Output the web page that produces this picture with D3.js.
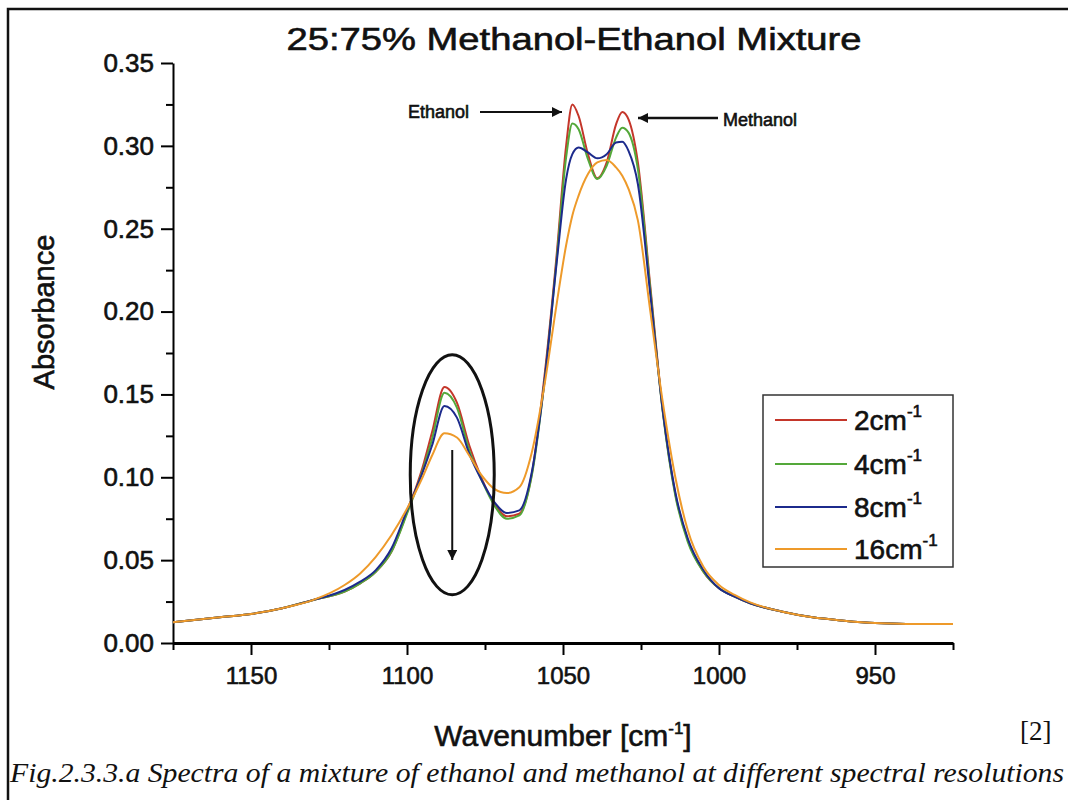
<!DOCTYPE html>
<html>
<head>
<meta charset="utf-8">
<script src="https://cdn.jsdelivr.net/npm/d3@7"></script>
<style>
  body { margin: 0; background: #fff; }
  svg text { font-family: "Liberation Sans", Arial, sans-serif; fill: #111; }
  svg text.heavy { stroke: #111; stroke-width: 0.6px; }
</style>
</head>
<body>
<div id="graph"></div>
<script>
// valeurs
var wavenumbers = [1175, 1160, 1150, 1140, 1130, 1120, 1115, 1110, 1105, 1100, 1095, 1092, 1088, 1084, 1080, 1076, 1072, 1068, 1064, 1060, 1056, 1052, 1049, 1047, 1045, 1042, 1039, 1036, 1033, 1031, 1029, 1026, 1022, 1018, 1014, 1010, 1005, 1000, 995, 990, 980, 970, 960, 950, 940, 925];

var abs2 = [0.0125, 0.0155, 0.0175, 0.021, 0.026, 0.031, 0.036, 0.043, 0.055, 0.079, 0.106, 0.127, 0.1545, 0.145, 0.119, 0.099, 0.084, 0.0765, 0.078, 0.102, 0.160, 0.235, 0.300, 0.325, 0.318, 0.295, 0.2805, 0.290, 0.313, 0.3205, 0.316, 0.290, 0.215, 0.140, 0.090, 0.062, 0.043, 0.033, 0.028, 0.024, 0.019, 0.0155, 0.0135, 0.012, 0.0115, 0.0115];
var abs4 = [0.0125, 0.0155, 0.0175, 0.021, 0.026, 0.031, 0.036, 0.043, 0.055, 0.078, 0.104, 0.123, 0.151, 0.142, 0.116, 0.098, 0.083, 0.075, 0.077, 0.101, 0.157, 0.232, 0.293, 0.3135, 0.310, 0.292, 0.280, 0.288, 0.305, 0.311, 0.308, 0.286, 0.213, 0.139, 0.089, 0.061, 0.043, 0.033, 0.028, 0.024, 0.019, 0.0155, 0.0135, 0.012, 0.0115, 0.0115];
var abs8 = [0.0125, 0.0155, 0.0175, 0.021, 0.026, 0.032, 0.037, 0.044, 0.057, 0.080, 0.103, 0.119, 0.143, 0.136, 0.114, 0.098, 0.085, 0.0785, 0.080, 0.103, 0.157, 0.230, 0.280, 0.295, 0.299, 0.296, 0.2925, 0.295, 0.302, 0.3025, 0.297, 0.277, 0.210, 0.140, 0.091, 0.063, 0.044, 0.033, 0.028, 0.024, 0.019, 0.0155, 0.0135, 0.012, 0.0115, 0.0115];
var abs16 = [0.0125, 0.0155, 0.0175, 0.021, 0.026, 0.035, 0.042, 0.052, 0.065, 0.081, 0.100, 0.113, 0.1265, 0.124, 0.113, 0.101, 0.093, 0.0905, 0.094, 0.115, 0.155, 0.205, 0.240, 0.258, 0.270, 0.283, 0.290, 0.2915, 0.287, 0.282, 0.274, 0.255, 0.200, 0.145, 0.100, 0.068, 0.046, 0.035, 0.029, 0.0245, 0.019, 0.0155, 0.0135, 0.012, 0.0115, 0.0115];

var seriesNames = ["2", "4", "8", "16"];
var seriesColors = ["#c4362a", "#54a83a", "#1c2a8c", "#ee9a2a"];
var seriesValues = [abs2, abs4, abs8, abs16];

var xMajorTicks = [1150, 1100, 1050, 1000, 950];
var xMinorTicks = [1175, 1125, 1075, 1025, 975, 925];
var yMajorTicks = [0, 0.05, 0.10, 0.15, 0.20, 0.25, 0.30, 0.35];
var yMinorTicks = [0.025, 0.075, 0.125, 0.175, 0.225, 0.275, 0.325];

var W = 1068, H = 800;
var svg = d3.select("#graph").append("svg")
  .attr("width", W).attr("height", H);

// cadre de la figure
svg.append("rect")
  .attr("x", 8).attr("y", 9).attr("width", W + 10).attr("height", H + 10)
  .attr("fill", "none").attr("stroke", "#111").attr("stroke-width", 2.5);

var x = d3.scaleLinear().domain([1175, 925]).range([173, 953]);
var y = d3.scaleLinear().domain([0, 0.35]).range([643, 63]);

// axe X
var gx = svg.append("g").attr("transform", "translate(0,643)");
gx.call(d3.axisBottom(x).tickValues(xMajorTicks).tickSize(12).tickSizeOuter(0).tickPadding(12).tickFormat(d3.format("d")));
gx.selectAll("text").attr("class", "heavy").style("font-size", "24px");
gx.select(".domain").attr("stroke-width", 3);
gx.selectAll(".tick line").attr("stroke-width", 2);
var gx2 = svg.append("g").attr("transform", "translate(0,643)");
gx2.call(d3.axisBottom(x).tickValues(xMinorTicks).tickSize(7).tickSizeOuter(0).tickFormat(""));
gx2.select(".domain").remove();
gx2.selectAll(".tick line").attr("stroke-width", 2);

// axe Y
var gy = svg.append("g").attr("transform", "translate(173,0)");
gy.call(d3.axisLeft(y).tickValues(yMajorTicks).tickSize(12).tickSizeOuter(0).tickPadding(7).tickFormat(d3.format(".2f")));
gy.selectAll("text").attr("class", "heavy").style("font-size", "26px");
gy.select(".domain").attr("stroke-width", 2);
gy.selectAll(".tick line").attr("stroke-width", 2);
var gy2 = svg.append("g").attr("transform", "translate(173,0)");
gy2.call(d3.axisLeft(y).tickValues(yMinorTicks).tickSize(7).tickSizeOuter(0).tickFormat(""));
gy2.select(".domain").remove();
gy2.selectAll(".tick line").attr("stroke-width", 2);

// courbes
var line = d3.line()
  .x(function(d) { return x(d[0]); })
  .y(function(d) { return y(d[1]); })
  .curve(d3.curveMonotoneX);

seriesValues.forEach(function(vals, i) {
  svg.append("path")
    .datum(wavenumbers.map(function(w, j) { return [w, vals[j]]; }))
    .attr("fill", "none")
    .attr("stroke", seriesColors[i])
    .attr("stroke-width", 2)
    .attr("d", line);
});

// titre
svg.append("text")
  .attr("class", "heavy")
  .attr("x", 574).attr("y", 50)
  .attr("text-anchor", "middle")
  .attr("textLength", 575).attr("lengthAdjust", "spacingAndGlyphs")
  .style("font-size", "31px")
  .text("25:75% Methanol-Ethanol Mixture");

// titres des axes
svg.append("text")
  .attr("class", "heavy")
  .attr("transform", "translate(54,312) rotate(-90)")
  .attr("text-anchor", "middle")
  .style("font-size", "29px")
  .text("Absorbance");

var xt = svg.append("text")
  .attr("class", "heavy")
  .attr("x", 563).attr("y", 746)
  .attr("text-anchor", "middle")
  .style("font-size", "30px");
xt.append("tspan").text("Wavenumber [cm");
xt.append("tspan").attr("dy", -12).style("font-size", "17px").text("-1");
xt.append("tspan").attr("dy", 12).text("]");

// annotations
svg.append("defs").append("marker")
  .attr("id", "arrow").attr("viewBox", "0 0 10 10")
  .attr("refX", 10).attr("refY", 5)
  .attr("markerWidth", 16).attr("markerHeight", 10)
  .attr("markerUnits", "userSpaceOnUse")
  .attr("orient", "auto")
  .append("path").attr("d", "M0,0 L10,5 L0,10 z").attr("fill", "#111");

svg.append("text").attr("class", "heavy").attr("x", 408).attr("y", 118).style("font-size", "18px").text("Ethanol");
svg.append("line")
  .attr("x1", 480).attr("y1", 112).attr("x2", 562).attr("y2", 112)
  .attr("stroke", "#111").attr("stroke-width", 2).attr("marker-end", "url(#arrow)");

svg.append("text").attr("class", "heavy").attr("x", 723).attr("y", 126).style("font-size", "18px").text("Methanol");
svg.append("line")
  .attr("x1", 718).attr("y1", 118).attr("x2", 638).attr("y2", 118)
  .attr("stroke", "#111").attr("stroke-width", 2.5).attr("marker-end", "url(#arrow)");

// ellipse et flèche
svg.append("ellipse")
  .attr("cx", x(1085.5)).attr("cy", y(0.1015))
  .attr("rx", 42).attr("ry", 120)
  .attr("fill", "none").attr("stroke", "#111").attr("stroke-width", 3);
svg.append("line")
  .attr("x1", x(1085.5)).attr("y1", 450).attr("x2", x(1085.5)).attr("y2", 560)
  .attr("stroke", "#111").attr("stroke-width", 2).attr("marker-end", "url(#arrow)");

// légende
var leg = svg.append("g");
leg.append("rect")
  .attr("x", 763).attr("y", 395).attr("width", 190).attr("height", 172)
  .attr("fill", "#fff").attr("stroke", "#333").attr("stroke-width", 1.5);
var rowY = [420, 464, 507, 549];
seriesNames.forEach(function(n, i) {
  leg.append("line")
    .attr("x1", 775).attr("x2", 847).attr("y1", rowY[i]).attr("y2", rowY[i])
    .attr("stroke", seriesColors[i]).attr("stroke-width", 2);
  var t = leg.append("text")
    .attr("class", "heavy")
    .attr("x", 854).attr("y", rowY[i] + 10)
    .style("font-size", "28px");
  t.append("tspan").text(n + "cm");
  t.append("tspan").attr("dy", -13).style("font-size", "17px").text("-1");
});

// référence et légende de figure
svg.append("text")
  .attr("x", 1020).attr("y", 740)
  .style("font-family", "'Liberation Serif', 'Times New Roman', serif")
  .style("font-size", "27px")
  .text("[2]");
svg.append("text")
  .attr("x", 10).attr("y", 782)
  .attr("textLength", 1054).attr("lengthAdjust", "spacingAndGlyphs")
  .style("font-family", "'Liberation Serif', 'Times New Roman', serif")
  .style("font-style", "italic")
  .style("font-size", "28px")
  .text("Fig.2.3.3.a  Spectra of a mixture of ethanol and methanol at different spectral resolutions");
</script>
</body>
</html>
